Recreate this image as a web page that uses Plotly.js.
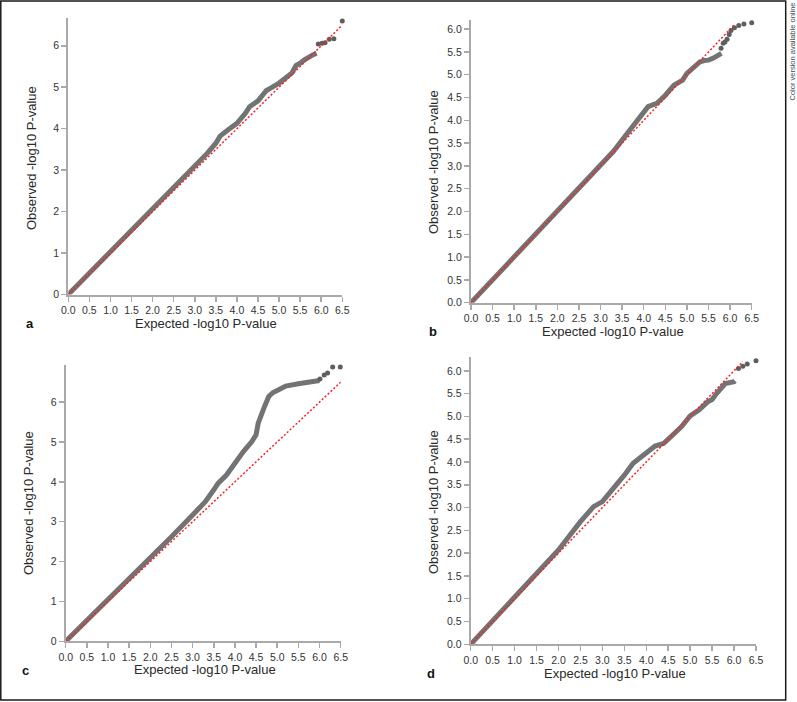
<!DOCTYPE html>
<html>
<head>
<meta charset="utf-8">
<script src="https://cdn.plot.ly/plotly-3.0.1.min.js"></script>
<style>html,body{margin:0;padding:0;background:#fff;}#chart{width:797px;height:702px;}</style>
</head>
<body>
<div id="chart"></div>
<script>
// ---- Panel a ----
var aExp = [0, 0.5, 1.0, 1.5, 2.0, 2.5, 3.0, 3.3, 3.5, 3.6, 3.8, 4.0, 4.2, 4.3, 4.5, 4.7, 4.8, 5.0, 5.3, 5.4, 5.5, 5.6, 5.8, 5.89];
var aObs = [0, 0.52, 1.03, 1.55, 2.08, 2.6, 3.08, 3.41, 3.65, 3.82, 3.98, 4.13, 4.37, 4.53, 4.67, 4.92, 4.98, 5.1, 5.34, 5.52, 5.58, 5.66, 5.78, 5.82];
var aTailExp = [5.93, 6.02, 6.09, 6.19, 6.3, 6.5];
var aTailObs = [6.04, 6.06, 6.07, 6.16, 6.17, 6.6];
var aNull = [0, 6.5];

// ---- Panel b ----
var bExp = [0, 0.5, 1.0, 1.5, 2.0, 2.5, 3.0, 3.3, 3.5, 3.7, 3.9, 4.1, 4.3, 4.5, 4.7, 4.9, 5.0, 5.2, 5.3, 5.4, 5.5, 5.6, 5.7, 5.8];
var bObs = [0, 0.5, 1.01, 1.53, 2.03, 2.54, 3.02, 3.32, 3.57, 3.82, 4.04, 4.3, 4.37, 4.55, 4.77, 4.88, 5.03, 5.21, 5.28, 5.31, 5.32, 5.36, 5.41, 5.47];
var bTailExp = [5.79, 5.84, 5.88, 5.93, 5.98, 6.02, 6.1, 6.2, 6.32, 6.5];
var bTailObs = [5.58, 5.69, 5.72, 5.78, 5.88, 5.97, 6.03, 6.08, 6.11, 6.14];
var bNull = [0, 6.1];

// ---- Panel c ----
var cExp = [0, 0.5, 1.0, 1.5, 2.0, 2.5, 3.0, 3.3, 3.5, 3.6, 3.8, 4.0, 4.2, 4.4, 4.5, 4.55, 4.6, 4.7, 4.8, 4.9, 5.0, 5.2, 5.5, 5.8, 6.0];
var cObs = [0, 0.52, 1.03, 1.56, 2.08, 2.62, 3.17, 3.5, 3.8, 3.96, 4.17, 4.47, 4.76, 5.01, 5.18, 5.47, 5.64, 5.89, 6.14, 6.24, 6.29, 6.4, 6.46, 6.52, 6.54];
var cTailExp = [6.01, 6.11, 6.19, 6.31, 6.49];
var cTailObs = [6.58, 6.68, 6.73, 6.88, 6.88];
var cNull = [0, 6.5];

// ---- Panel d ----
var dExp = [0, 0.5, 1.0, 1.5, 2.0, 2.5, 2.8, 3.0, 3.2, 3.5, 3.7, 4.0, 4.2, 4.4, 4.6, 4.8, 5.0, 5.2, 5.4, 5.5, 5.6, 5.7, 5.8, 6.0, 6.02];
var dObs = [0, 0.52, 1.01, 1.56, 2.07, 2.69, 3.02, 3.13, 3.35, 3.71, 3.97, 4.19, 4.35, 4.41, 4.59, 4.77, 5.01, 5.14, 5.32, 5.37, 5.5, 5.61, 5.72, 5.76, 5.78];
var dTailExp = [6.1, 6.2, 6.3, 6.5];
var dTailObs = [6.05, 6.1, 6.15, 6.22];
var dNull = [0, 6.2];

var panelLabels = ['a', 'b', 'c', 'd'];
var xTitle = 'Expected -log10 P-value';
var yTitle = 'Observed -log10 P-value';
var sideNote = 'Color version available online';

var W = 797, H = 702;
function fx(p) { return p / W; }
function fy(p) { return 1 - p / H; }

var bandColor = '#737373';
var tailColor = '#5e5e5e';
var redColor = '#ff1f1f';
var FONT = 'Liberation Sans, Arial, sans-serif';

var panels = [
  {e: aExp, o: aObs, te: aTailExp, to: aTailObs, n: aNull, xs: 'x', ys: 'y'},
  {e: bExp, o: bObs, te: bTailExp, to: bTailObs, n: bNull, xs: 'x2', ys: 'y2'},
  {e: cExp, o: cObs, te: cTailExp, to: cTailObs, n: cNull, xs: 'x3', ys: 'y3'},
  {e: dExp, o: dObs, te: dTailExp, to: dTailObs, n: dNull, xs: 'x4', ys: 'y4'}
];

var traces = [];
panels.forEach(function (p) {
  traces.push({x: p.e, y: p.o, xaxis: p.xs, yaxis: p.ys, type: 'scatter', mode: 'lines',
    line: {color: bandColor, width: 5}, hoverinfo: 'skip'});
  traces.push({x: p.te, y: p.to, xaxis: p.xs, yaxis: p.ys, type: 'scatter', mode: 'markers',
    marker: {color: tailColor, size: 5}, cliponaxis: false, hoverinfo: 'skip'});
  traces.push({x: p.n, y: p.n, xaxis: p.xs, yaxis: p.ys, type: 'scatter', mode: 'lines',
    line: {color: redColor, width: 1.5, dash: '2px,2px'}, hoverinfo: 'skip'});
});

function xax(d0, d1, anchor) {
  return {domain: [fx(d0), fx(d1)], anchor: anchor, range: [0, 6.5], tick0: 0, dtick: 0.5,
    tickformat: '.1f', showgrid: false, zeroline: false, showline: true, linecolor: '#a9a9a9',
    linewidth: 2, ticks: 'outside', ticklen: 5, tickwidth: 1.5, tickcolor: '#a9a9a9',
    tickfont: {family: FONT, size: 10.5, color: '#333'}, fixedrange: true};
}
function yax(bot, top, max, dt, fmt, anchor) {
  return {domain: [fy(bot), fy(top)], anchor: anchor, range: [0, max], tick0: 0, dtick: dt,
    tickformat: fmt, showgrid: false, zeroline: false, showline: true, linecolor: '#a9a9a9',
    linewidth: 2, ticks: 'outside', ticklen: 5, tickwidth: 1.5, tickcolor: '#a9a9a9',
    tickfont: {family: FONT, size: 10.5, color: '#333'}, fixedrange: true};
}

var annotations = [];
function addText(x, y, txt, size, angle, bold, color, fam) {
  annotations.push({xref: 'paper', yref: 'paper', x: fx(x), y: fy(y), text: bold ? '<b>' + txt + '</b>' : txt,
    showarrow: false, xanchor: 'center', yanchor: 'middle', textangle: angle || 0, borderpad: 0,
    font: {family: fam || FONT, size: size, color: color || '#2a2a2a'}});
}
// axis titles
addText(206, 323, xTitle, 13);
addText(613, 332, xTitle, 13);
addText(205, 669, xTitle, 13);
addText(615, 673, xTitle, 13);
addText(32, 158, yTitle, 13, -90);
addText(433, 162, yTitle, 13, -90);
addText(28, 503, yTitle, 13, -90);
addText(433, 502, yTitle, 13, -90);
// panel letters
addText(30, 323, panelLabels[0], 13, 0, true, '#111');
addText(433, 332, panelLabels[1], 13, 0, true, '#111');
addText(25, 670, panelLabels[2], 13, 0, true, '#111');
addText(431, 673, panelLabels[3], 13, 0, true, '#111');
// side note
addText(791.5, 52, sideNote, 7.5, -90, false, '#444', 'Liberation Sans, Arial, sans-serif');

var layout = {
  width: W, height: H, margin: {l: 0, r: 0, t: 0, b: 0},
  paper_bgcolor: '#fff', plot_bgcolor: 'rgba(0,0,0,0)', showlegend: false, hovermode: false,
  xaxis: xax(68.3, 342.3, 'y'),
  yaxis: yax(294.5, 18, 6.67, 1, 'd', 'x'),
  xaxis2: xax(471, 751.7, 'y2'),
  yaxis2: yax(302.7, 20, 6.2, 0.5, '.1f', 'x2'),
  xaxis3: xax(65.7, 340.7, 'y3'),
  yaxis3: yax(641.3, 365, 6.93, 1, 'd', 'x3'),
  xaxis4: xax(470.7, 756, 'y4'),
  yaxis4: yax(644.3, 356.7, 6.31, 0.5, '.1f', 'x4'),
  annotations: annotations,
  shapes: [{type: 'rect', xref: 'paper', yref: 'paper', x0: fx(0.8), x1: fx(785.7), y0: fy(700), y1: fy(1),
    line: {color: '#1a1a1a', width: 1.5}, fillcolor: 'rgba(0,0,0,0)', layer: 'above'}]
};

Plotly.newPlot('chart', traces, layout, {staticPlot: true, displayModeBar: false});
</script>
</body>
</html>
